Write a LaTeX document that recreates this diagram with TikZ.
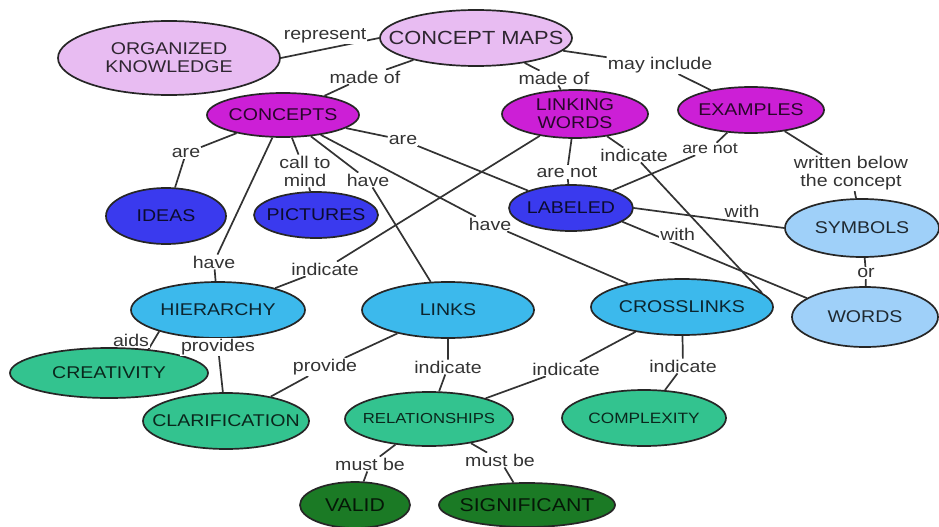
\documentclass[tikz,border=0pt]{standalone}
\usepackage{fontspec}
\setmainfont{Liberation Sans}[FakeStretch=1.15]
\usetikzlibrary{shapes.geometric,backgrounds}

\definecolor{lilac}{HTML}{E8BCF2}
\definecolor{magentac}{HTML}{CC1FD6}
\definecolor{bluec}{HTML}{3A3AEE}
\definecolor{skyc}{HTML}{3CB9EC}
\definecolor{palec}{HTML}{9FD0F9}
\definecolor{tealc}{HTML}{33C38F}
\definecolor{forestc}{HTML}{1B7A25}

\newcommand{\zw}[1]{\makebox[0pt]{#1}} %texto sin ancho

\tikzset{
  concept/.style={ellipse, draw=black!85, line width=1.7pt, inner sep=0pt, align=center,
    text opacity=.8, font=\fontsize{17}{18}\selectfont},
  phrase/.style={fill=white, inner sep=1pt, text=black!80, align=center,
    font=\fontsize{17}{18}\selectfont},
  connector/.style={draw=black!80, line width=1.7pt},
}

\begin{document}
\begin{tikzpicture}[x=1pt,y=-1pt]
    \useasboundingbox (0,0) rectangle (939,527); %marco

    % conceptos
    \node[concept, fill=lilac, minimum width=192, minimum height=56, font=\fontsize{19}{20}\selectfont] (maps) at (476,38) {\zw{CONCEPT MAPS}};
    \node[concept, fill=lilac, minimum width=222, minimum height=74] (knowledge) at (169,58) {\zw{ORGANIZED}\\\zw{KNOWLEDGE}};
    \node[concept, fill=magentac, minimum width=152, minimum height=44] (concepts) at (283,115) {\zw{CONCEPTS}};
    \node[concept, fill=magentac, minimum width=146, minimum height=48] (linking) at (575,114) {\zw{LINKING}\\\zw{WORDS}};
    \node[concept, fill=magentac, minimum width=146, minimum height=46] (examples) at (751,110) {\zw{EXAMPLES}};
    \node[concept, fill=bluec, minimum width=120, minimum height=56] (ideas) at (166,216) {\zw{IDEAS}};
    \node[concept, fill=bluec, minimum width=124, minimum height=46] (pictures) at (316,215) {\zw{PICTURES}};
    \node[concept, fill=bluec, minimum width=124, minimum height=46] (labeled) at (571,208) {\zw{LABELED}};
    \node[concept, fill=palec, minimum width=154, minimum height=58] (symbols) at (862,228) {\zw{SYMBOLS}};
    \node[concept, fill=palec, minimum width=146, minimum height=60] (words) at (865,317) {\zw{WORDS}};
    \node[concept, fill=skyc, minimum width=174, minimum height=56] (hierarchy) at (218,310) {\zw{HIERARCHY}};
    \node[concept, fill=skyc, minimum width=172, minimum height=56] (links) at (448,310) {\zw{LINKS}};
    \node[concept, fill=skyc, minimum width=182, minimum height=56] (crosslinks) at (682,307) {\zw{CROSSLINKS}};
    \node[concept, fill=tealc, minimum width=198, minimum height=50] (creativity) at (109,373) {\zw{CREATIVITY}};
    \node[concept, fill=tealc, minimum width=166, minimum height=56] (clarification) at (226,421) {\zw{CLARIFICATION}};
    \node[concept, fill=tealc, minimum width=168, minimum height=54, font=\fontsize{14.5}{16}\selectfont] (relationships) at (429,419) {\zw{RELATIONSHIPS}};
    \node[concept, fill=tealc, minimum width=164, minimum height=56, font=\fontsize{15}{16}\selectfont] (complexity) at (644,418) {\zw{COMPLEXITY}};
    \node[concept, fill=forestc, minimum width=110, minimum height=46, font=\fontsize{18.5}{19}\selectfont] (valid) at (355,505) {\zw{VALID}};
    \node[concept, fill=forestc, minimum width=176, minimum height=44, font=\fontsize{18.5}{19}\selectfont] (significant) at (527,505) {\zw{SIGNIFICANT}};

    % frases de enlace
    \node[phrase] (lmade1) at (365,77) {made of};
    \node[phrase] (lmade2) at (554,78) {made of};
    \node[phrase] (linclude) at (660,65) {may include};
    \node[phrase] (lare1) at (186,153) {are};
    \node[phrase] (lcall) at (305,171) {call to\\mind};
    \node[phrase] (lhave1) at (214,262) {have};
    \node[phrase] (lhave2) at (368,180) {have};
    \node[phrase] (lare2) at (403,140) {are};
    \node[phrase] (lhave3) at (490,224) {have};
    \node[phrase] (lnot1) at (567,172) {are not};
    \node[phrase] (lind1) at (325,269) {indicate};
    \node[phrase] (lind2) at (634,155) {indicate};
    \node[phrase, font=\fontsize{15.5}{16}\selectfont] (lnot2) at (710,149) {are not};
    \node[phrase] (lwritten) at (851,173) {written below\\the concept};
    \node[phrase] (lor) at (866,273) {or};
    \node[phrase] (lprov1) at (218,347) {provides};
    \node[phrase] (lprov2) at (325,367) {provide};
    \node[phrase] (lind3) at (448,367) {indicate};
    \node[phrase] (lind4) at (566,369) {indicate};
    \node[phrase] (lind5) at (683,366) {indicate};
    \node[phrase] (lmust1) at (370,464) {must be};
    \node[phrase] (lmust2) at (500,460) {must be};

    % lineas
    \begin{scope}[on background layer]
        \draw[connector] (knowledge.east) -- node[phrase, above=4pt, pos=.45] {represent} (maps.west);
        \draw[connector] (maps) -- (lmade1) -- (concepts);
        \draw[connector] (maps) -- (lmade2) -- (linking);
        \draw[connector] (maps) -- (linclude) -- (examples);
        \draw[connector] (concepts) -- (lare1) -- (ideas);
        \draw[connector] (concepts) -- (lcall) -- (pictures);
        \draw[connector] (concepts) -- (lhave1) -- (hierarchy);
        \draw[connector] (concepts) -- (lhave2) -- (links);
        \draw[connector] (concepts) -- (lare2) -- (labeled);
        \draw[connector] (concepts) -- (lhave3) -- (crosslinks);
        \draw[connector] (linking) -- (lnot1) -- (labeled);
        \draw[connector] (linking) -- (lind1) -- (hierarchy);
        \draw[connector] (linking) -- (lind2) -- (crosslinks.10);
        \draw[connector] (examples) -- (lnot2) -- (labeled);
        \draw[connector] (examples) -- (lwritten) -- (symbols);
        \draw[connector] (labeled.east) -- node[phrase, above=3pt, pos=.72] {with} (symbols.west);
        \draw[connector] (labeled.-15) -- node[phrase, above=2pt, pos=.3] {with} (words.162);
        \draw[connector] (symbols) -- (lor) -- (words);
        \draw[connector] (hierarchy.200) -- node[phrase, left=3pt] {aids} (creativity.31);
        \draw[connector] (hierarchy) -- (lprov1) -- (clarification);
        \draw[connector] (links) -- (lprov2) -- (clarification);
        \draw[connector] (links) -- (lind3) -- (relationships);
        \draw[connector] (crosslinks) -- (lind4) -- (relationships);
        \draw[connector] (crosslinks) -- (lind5) -- (complexity);
        \draw[connector] (relationships) -- (lmust1) -- (valid);
        \draw[connector] (relationships) -- (lmust2) -- (significant);
    \end{scope}
\end{tikzpicture}
\end{document}
